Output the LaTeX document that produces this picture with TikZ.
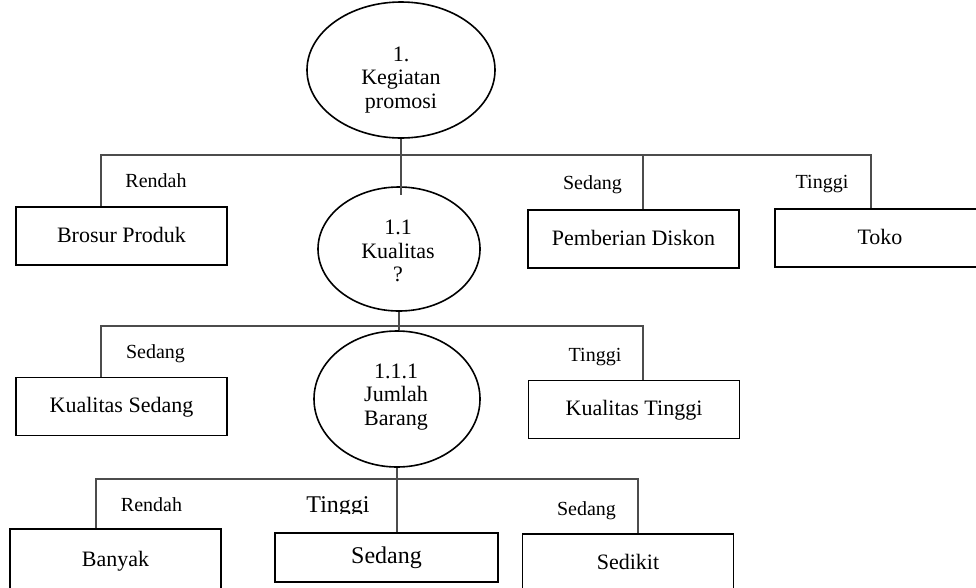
\documentclass[tikz,border=0pt]{standalone}
\usepackage{fontspec}
\setmainfont{Liberation Serif}
\usetikzlibrary{shapes.geometric}

\tikzset{
  bubble/.style={ellipse, draw=black, line width=1.6pt, inner sep=0pt},
  bubbletext/.style={align=center, inner sep=0pt, font=\fontsize{22}{23.5}\selectfont},
  leaf/.style={rectangle, draw=black, line width=1.8pt, minimum width=211pt,
    minimum height=58pt, inner sep=0pt, text height=1.25em, text depth=0pt,
    font=\fontsize{22}{26}\selectfont},
  bigleaf/.style={leaf, font=\fontsize{24}{28}\selectfont},
  wire/.style={draw=black!70, line width=1.1pt},
  cond/.style={anchor=base, inner sep=0pt, font=\fontsize{20}{24}\selectfont},
  bigcond/.style={cond, font=\fontsize{24}{28}\selectfont},
}

\begin{document}
\begin{tikzpicture}[x=1pt, y=-1pt]
\useasboundingbox (0,0) rectangle (976,587);
\clip (0,0) rectangle (976,587);

% decision nodes
\node[bubble, minimum width=188pt, minimum height=136pt] (e1) at (401,70) {};
\node[bubbletext] (e1t) at (401,80) {1.\\Kegiatan\\promosi};
\node[bubble, minimum width=162pt, minimum height=124pt] (e11) at (399,249) {};
\node[bubbletext] (e11t) at (398,251) {1.1\\Kualitas\\?};
\node[bubble, minimum width=166pt, minimum height=136pt] (e111) at (397,399) {};
\node[bubbletext] (e111t) at (396,397) {1.1.1\\Jumlah\\Barang};

% outcome boxes, first level
\node[leaf] (brosur) at (121.5,236) {Brosur Produk};
\node[leaf] (diskon) at (633.5,239) {Pemberian Diskon};
\node[leaf, minimum width=210pt] (toko) at (880,238) {Toko};

% second level
\node[leaf] (ksedang) at (121.5,406.5) {Kualitas Sedang};
\node[leaf] (ktinggi) at (634,409.5) {Kualitas Tinggi};

% third level
\node[leaf, minimum height=63pt] (banyak) at (115.5,560.5) {Banyak};
\node[bigleaf, minimum width=223pt, minimum height=49pt] (sedang) at (386.5,557.5) {Sedang};
\node[leaf] (sedikit) at (628,563) {Sedikit};

% branch buses
\coordinate (b1l) at (101,155);
\coordinate (b1m) at (643,155);
\coordinate (b1r) at (871,155);
\coordinate (b2l) at (101,326);
\coordinate (b2r) at (643,326);
\coordinate (b3l) at (96,479);
\coordinate (b3m) at (397,479);
\coordinate (b3r) at (638,479);

\draw[wire] (brosur.north -| b1l) -- (b1l) -- (b1r) -- (toko.north -| b1r);
\draw[wire] (b1m) -- (diskon.north -| b1m);
\draw[wire] (e1.south) -- ([yshift=-9pt]e1.south |- e11.north);

\draw[wire] (ksedang.north -| b2l) -- (b2l) -- (b2r) -- (ktinggi.north -| b2r);
\draw[wire] (e11.south) -- (e11.south |- e111.north);

\draw[wire] (banyak.north -| b3l) -- (b3l) -- (b3r) -- (sedikit.north -| b3r);
\draw[wire] (e111.south -| b3m) -- (sedang.north -| b3m);

% branch conditions
\node[cond] (c1) at (156,187) {Rendah};
\node[cond] (c2) at (592.5,189) {Sedang};
\node[cond] (c3) at (822,188) {Tinggi};
\node[cond] (c4) at (155.5,358) {Sedang};
\node[cond] (c5) at (595,361) {Tinggi};
\node[cond] (c6) at (151.5,511) {Rendah};
\begin{scope}
  \clip (290,480) rectangle (390,513);
  \node[bigcond] (c7) at (338,512) {Tinggi};
\end{scope}
\node[cond] (c8) at (586.5,515) {Sedang};
\end{tikzpicture}
\end{document}
